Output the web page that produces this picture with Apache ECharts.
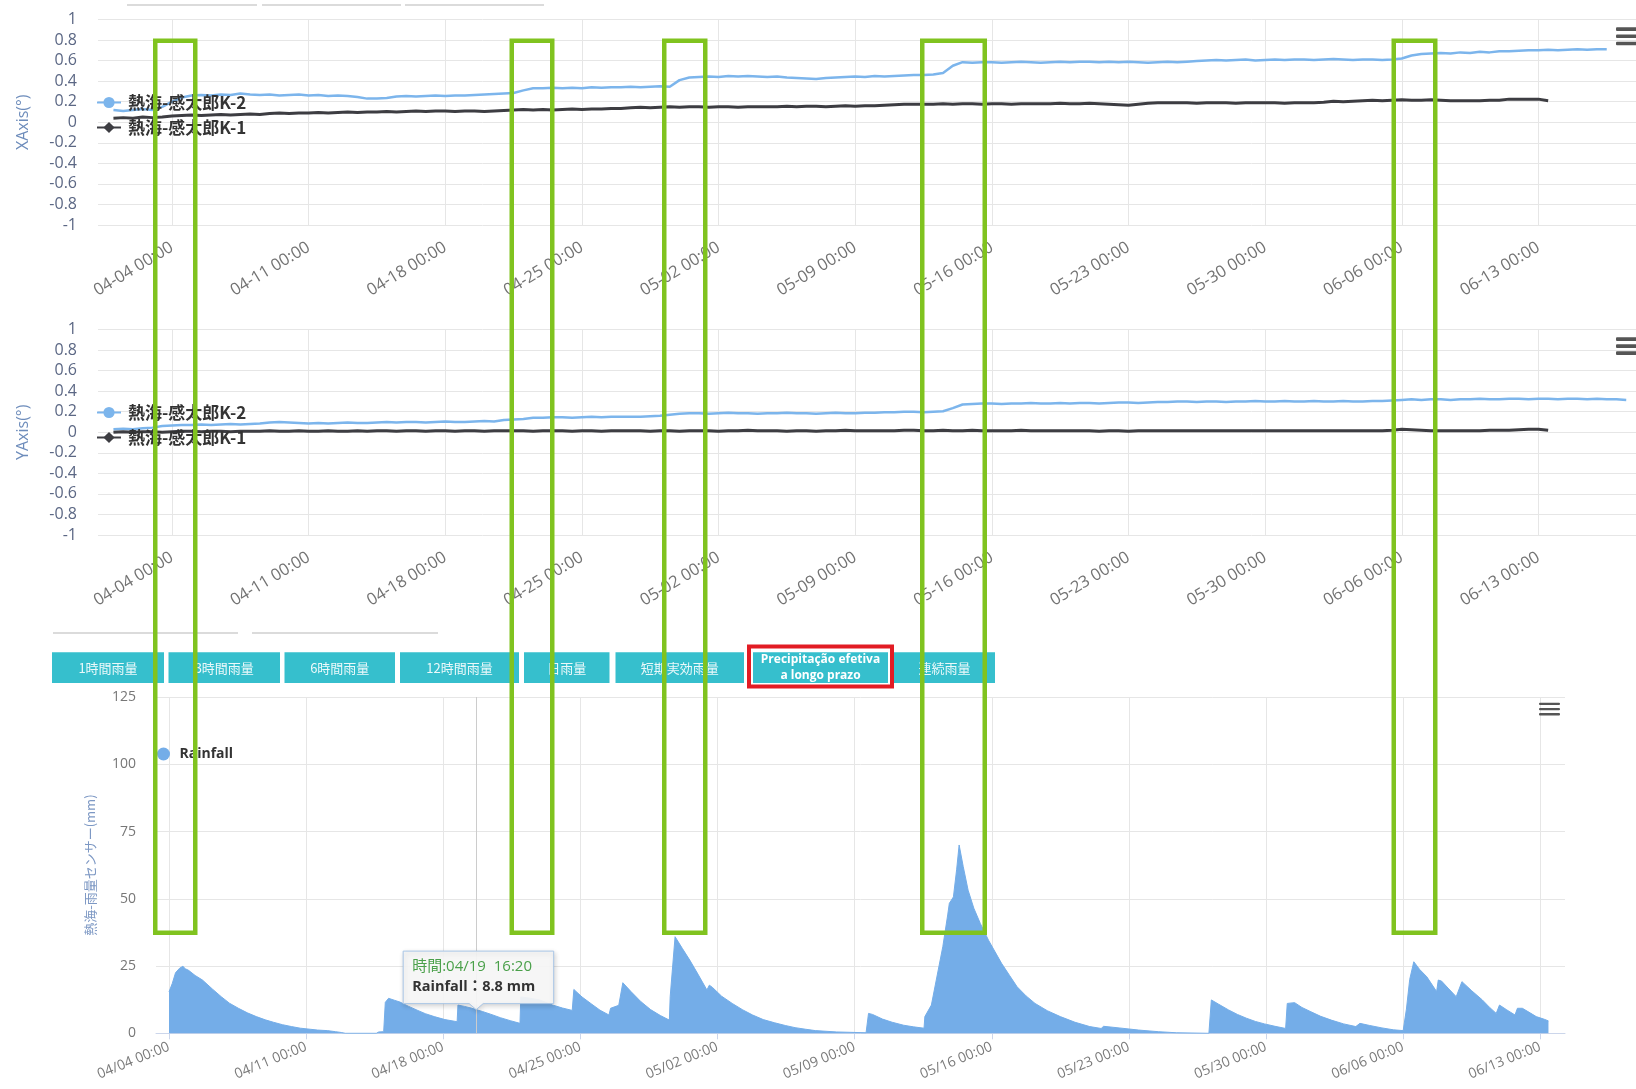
<!DOCTYPE html>
<html>
<head>
<meta charset="utf-8">
<script src="https://cdn.jsdelivr.net/npm/echarts@6/dist/echarts.min.js"></script>
<style>
  html, body { margin: 0; padding: 0; background: #ffffff; }
  #c { width: 1636px; height: 1089px; }
</style>
</head>
<body>
<div id="c"></div>
<script>
// ---------------- data ----------------
const YEAR = 2021;

// inclinometer readings, sampled every 12 hours from sensorStart
const sensorStart = '04/01 00:00';
const sensorStepHours = 12;

// X axis tilt, 熱海-感太郎K-2
const xK2 = [
  0.12,0.11, 0.12,0.13, 0.12,0.15, 0.20,0.24, 0.26,0.265, 0.26,0.27, 0.265,0.28,
  0.27,0.265, 0.27,0.26, 0.265,0.27, 0.26,0.265, 0.255,0.26, 0.255,0.245, 0.23,0.23,
  0.235,0.25, 0.255,0.25, 0.255,0.26, 0.255,0.26, 0.26,0.265, 0.27,0.275, 0.28,0.285,
  0.31,0.33, 0.33,0.335, 0.33,0.335, 0.33,0.34, 0.335,0.34, 0.34,0.345, 0.34,0.345,
  0.35,0.345, 0.41,0.435, 0.44,0.445, 0.44,0.45, 0.445,0.45, 0.445,0.44, 0.445,0.435,
  0.43,0.425, 0.42,0.43, 0.435,0.44, 0.445,0.44, 0.45,0.445, 0.45,0.455, 0.46,0.46,
  0.465,0.48, 0.55,0.585, 0.58,0.585, 0.585,0.58, 0.585,0.59, 0.585,0.58, 0.585,0.59,
  0.585,0.59, 0.59,0.585, 0.59,0.585, 0.59,0.585, 0.58,0.585, 0.59,0.585, 0.59,0.595,
  0.60,0.605, 0.60,0.605, 0.61,0.60, 0.605,0.61, 0.605,0.61, 0.61,0.605, 0.61,0.615,
  0.61,0.605, 0.61,0.61, 0.605,0.61, 0.62,0.65, 0.665,0.67, 0.675,0.67, 0.68,0.675,
  0.685,0.68, 0.69,0.69, 0.695,0.70, 0.70,0.705, 0.70,0.705, 0.71,0.705, 0.71,0.71
];
// X axis tilt, 熱海-感太郎K-1
const xK1 = [
  0.04,0.045, 0.04,0.05, 0.045,0.05, 0.06,0.065, 0.07,0.065, 0.07,0.075, 0.07,0.075,
  0.08,0.075, 0.085,0.09, 0.085,0.09, 0.09,0.095, 0.09,0.095, 0.10,0.095, 0.10,0.10,
  0.105,0.10, 0.105,0.11, 0.105,0.11, 0.11,0.105, 0.11,0.11, 0.105,0.11, 0.115,0.12,
  0.125,0.12, 0.125,0.12, 0.125,0.13, 0.125,0.13, 0.13,0.135, 0.135,0.14, 0.145,0.14,
  0.145,0.15, 0.145,0.15, 0.15,0.145, 0.15,0.15, 0.145,0.15, 0.15,0.15, 0.15,0.155,
  0.15,0.155, 0.155,0.15, 0.155,0.16, 0.155,0.16, 0.16,0.165, 0.17,0.175, 0.175,0.175,
  0.175,0.18, 0.175,0.18, 0.18,0.175, 0.18,0.18, 0.175,0.18, 0.18,0.18, 0.18,0.185,
  0.18,0.18, 0.185,0.18, 0.175,0.17, 0.165,0.175, 0.185,0.19, 0.19,0.19, 0.19,0.185,
  0.19,0.19, 0.19,0.185, 0.19,0.19, 0.19,0.19, 0.185,0.19, 0.19,0.19, 0.195,0.205,
  0.20,0.205, 0.21,0.215, 0.21,0.215, 0.22,0.215, 0.215,0.22, 0.215,0.21, 0.21,0.21,
  0.21,0.215, 0.215,0.225, 0.225,0.225, 0.225,0.21
];
// Y axis tilt, 熱海-感太郎K-2
const yK2 = [
  0.03,0.035, 0.03,0.04, 0.045,0.06, 0.065,0.07, 0.07,0.075, 0.07,0.075, 0.08,0.075,
  0.08,0.085, 0.095,0.10, 0.095,0.09, 0.085,0.09, 0.085,0.09, 0.095,0.09, 0.09,0.095,
  0.10,0.095, 0.10,0.10, 0.095,0.10, 0.105,0.10, 0.10,0.105, 0.11,0.105, 0.12,0.125,
  0.13,0.14, 0.14,0.145, 0.145,0.14, 0.145,0.15, 0.145,0.15, 0.15,0.15, 0.15,0.155,
  0.16,0.17, 0.18,0.185, 0.185,0.18, 0.185,0.19, 0.185,0.185, 0.18,0.185, 0.185,0.19,
  0.185,0.185, 0.18,0.185, 0.19,0.185, 0.185,0.19, 0.19,0.195, 0.195,0.20, 0.20,0.195,
  0.20,0.205, 0.235,0.27, 0.275,0.28, 0.28,0.275, 0.28,0.28, 0.285,0.28, 0.28,0.285,
  0.28,0.285, 0.285,0.28, 0.285,0.29, 0.29,0.285, 0.29,0.295, 0.295,0.30, 0.30,0.295,
  0.30,0.30, 0.295,0.30, 0.30,0.305, 0.30,0.30, 0.305,0.30, 0.30,0.305, 0.30,0.30,
  0.305,0.30, 0.30,0.305, 0.305,0.31, 0.315,0.32, 0.315,0.32, 0.32,0.315, 0.32,0.32,
  0.325,0.32, 0.32,0.325, 0.325,0.32, 0.325,0.325, 0.32,0.325, 0.325,0.32, 0.325,0.32,
  0.32,0.315
];
// Y axis tilt, 熱海-感太郎K-1
const yK1 = [
  0.0,0.005, 0.0,0.005, 0.005,0.0, 0.005,0.01, 0.01,0.005, 0.01,0.01, 0.005,0.01,
  0.01,0.01, 0.015,0.01, 0.01,0.015, 0.01,0.01, 0.015,0.01, 0.01,0.015, 0.01,0.015,
  0.015,0.01, 0.015,0.015, 0.01,0.015, 0.015,0.01, 0.015,0.015, 0.01,0.015, 0.015,0.015,
  0.015,0.01, 0.015,0.015, 0.015,0.01, 0.015,0.015, 0.01,0.015, 0.015,0.015, 0.015,0.01,
  0.015,0.015, 0.01,0.015, 0.015,0.015, 0.01,0.015, 0.015,0.02, 0.015,0.015, 0.015,0.01,
  0.015,0.015, 0.01,0.015, 0.015,0.02, 0.015,0.015, 0.015,0.015, 0.015,0.02, 0.02,0.015,
  0.015,0.02, 0.015,0.015, 0.02,0.015, 0.015,0.015, 0.015,0.02, 0.015,0.015, 0.015,0.015,
  0.015,0.015, 0.015,0.01, 0.015,0.015, 0.01,0.015, 0.015,0.015, 0.015,0.015, 0.015,0.015,
  0.015,0.015, 0.015,0.015, 0.015,0.015, 0.015,0.015, 0.015,0.015, 0.015,0.015, 0.015,0.015,
  0.015,0.015, 0.015,0.015, 0.015,0.02, 0.03,0.025, 0.02,0.015, 0.015,0.015, 0.015,0.015,
  0.015,0.02, 0.02,0.02, 0.025,0.03, 0.03,0.02
];

// long-term effective rainfall (mm)
const rainTimes = [
  '04/04 00:00','04/04 04:00','04/04 08:00','04/04 13:00','04/04 17:00','04/04 20:00','04/05 00:00','04/05 08:00','04/05 17:00',
  '04/06 05:00','04/06 16:00','04/07 02:00','04/07 13:00','04/08 00:00','04/08 11:00','04/08 22:00','04/09 08:00','04/09 19:00',
  '04/10 06:00','04/10 17:00','04/11 05:00','04/11 14:00','04/12 02:00','04/12 12:00','04/12 19:00','04/13 00:00','04/14 14:00',
  '04/14 17:00','04/14 23:00','04/15 01:00','04/15 05:00','04/15 12:00','04/15 19:00','04/16 05:00','04/16 16:00','04/17 02:00',
  '04/17 13:00','04/18 02:00','04/18 17:00','04/18 18:00','04/19 02:00','04/19 10:00','04/19 16:20','04/20 00:00','04/20 10:00',
  '04/20 22:00','04/21 10:00','04/21 22:00','04/21 23:00','04/22 07:00','04/22 22:00','04/23 14:00','04/24 02:00','04/24 14:00',
  '04/24 16:00','04/25 02:00','04/25 14:00','04/26 00:00','04/26 11:00','04/26 13:00','04/26 23:00','04/27 04:00','04/27 14:00',
  '04/28 02:00','04/28 14:00','04/29 02:00','04/29 13:00','04/29 14:00','04/29 20:00','04/30 05:00','04/30 14:00','05/01 00:00',
  '05/01 11:00','05/01 14:00','05/01 18:00','05/02 05:00','05/02 18:00','05/03 07:00','05/03 19:00','05/04 08:00','05/04 22:00',
  '05/05 11:00','05/05 23:00','05/06 12:00','05/07 00:00','05/08 02:00','05/09 14:00','05/09 17:00','05/09 22:00','05/10 10:00',
  '05/10 22:00','05/11 12:00','05/12 00:00','05/12 13:00','05/12 14:00','05/12 22:00','05/13 04:00','05/13 12:00','05/13 18:00',
  '05/13 20:00','05/14 01:00','05/14 05:00','05/14 08:00','05/14 13:00','05/14 19:00','05/15 02:00','05/15 10:00','05/15 20:00',
  '05/16 12:00','05/16 22:00','05/17 07:00','05/17 18:00','05/18 05:00','05/18 20:00','05/19 12:00','05/20 06:00','05/21 00:00',
  '05/21 14:00','05/21 17:00','05/22 12:00','05/23 12:00','05/24 12:00','05/25 10:00','05/25 12:00','05/27 02:00','05/27 05:00',
  '05/27 14:00','05/28 02:00','05/28 13:00','05/29 00:00','05/29 11:00','05/29 22:00','05/30 11:00','05/31 00:00','05/31 02:00',
  '05/31 11:00','05/31 20:00','06/01 07:00','06/01 19:00','06/02 08:00','06/02 23:00','06/03 14:00','06/03 19:00','06/04 07:00',
  '06/04 22:00','06/05 12:00','06/06 00:00','06/06 04:00','06/06 08:00','06/06 13:00','06/06 20:00','06/07 05:00','06/07 17:00',
  '06/07 19:00','06/07 23:00','06/08 07:00','06/08 17:00','06/09 00:00','06/09 12:00','06/10 01:00','06/10 10:00','06/10 18:00',
  '06/10 22:00','06/11 07:00','06/11 17:00','06/11 20:00','06/12 02:00','06/12 12:00','06/12 19:00','06/13 05:00','06/13 10:00'
];
const rainValues = [
  15.4,18.5,22.5,24.2,24.9,24.0,23.4,21.5,19.8,
  16.5,13.6,11.2,9.3,7.6,6.2,5.0,4.1,3.2,
  2.5,1.9,1.5,1.2,1.0,0.6,0.3,0,0,
  0.5,0.6,11.5,13.0,12.3,11.6,10.1,8.6,7.3,
  6.2,5.1,4.3,10.5,10.0,9.4,8.8,8.1,7.1,
  5.8,4.7,3.7,13.5,13.2,12.4,10.5,9.4,8.5,
  16.3,13.5,10.8,8.6,6.8,9.3,10.4,18.8,15.5,
  11.8,8.8,6.6,4.9,13.6,35.9,31.5,27.2,22.0,
  16.1,17.9,17.0,13.8,11.1,8.7,6.8,5.1,3.9,
  2.9,2.1,1.5,1.0,0.5,0.2,7.4,7.0,5.3,
  4.1,3.0,2.4,1.9,6.2,10.5,19.8,32.2,44.0,
  48.3,50.7,61.0,70.0,62.0,53.2,46.5,40.8,34.6,
  26.0,21.4,17.3,13.9,11.1,8.4,6.2,4.1,2.5,
  1.8,2.6,2.0,1.2,0.6,0.2,0,0,12.4,
  10.8,8.7,7.0,5.6,4.4,3.5,2.6,1.8,11.1,
  11.4,9.6,8.0,6.3,4.9,3.5,2.5,3.7,2.9,
  2.0,1.3,1.0,9.0,20.0,26.6,23.8,21.0,15.5,
  19.8,19.4,16.8,13.6,19.2,15.8,12.4,9.6,7.4,
  10.5,8.7,6.8,9.3,9.3,7.5,6.2,5.2,4.6
];

// hovered sample shown in the tooltip
const tipTime = '04/19 16:20';

// weekly axis ticks
const weekTicks = ['04/04 00:00','04/11 00:00','04/18 00:00','04/25 00:00','05/02 00:00','05/09 00:00',
                   '05/16 00:00','05/23 00:00','05/30 00:00','06/06 00:00','06/13 00:00'];

const seriesNames = ['熱海-感太郎K-2', '熱海-感太郎K-1'];
const rainName = 'Rainfall';
const buttonLabels = ['1時間雨量','3時間雨量','6時間雨量','12時間雨量','日雨量','短期実効雨量',
                      'Precipitação efetiva\na longo prazo','連続雨量'];
const activeButton = 6;

// ---------------- helpers ----------------
const DAY = 86400000;
function ts(s) {
  const [d, t] = s.split(' ');
  const [mo, da] = d.split('/').map(Number);
  const [h, mi] = t.split(':').map(Number);
  return Date.UTC(YEAR, mo - 1, da, h, mi);
}
function fmt(v, sep) {
  const d = new Date(v);
  const p = n => String(n).padStart(2, '0');
  return p(d.getUTCMonth() + 1) + sep + p(d.getUTCDate()) + ' ' + p(d.getUTCHours()) + ':' + p(d.getUTCMinutes());
}
const t0 = ts(sensorStart);
function sensorPairs(vals) {
  return vals.map((v, i) => [t0 + i * sensorStepHours * 3600000, v]);
}
const rainData = rainTimes.map((s, i) => [ts(s), rainValues[i]]);
const tickVals = weekTicks.map(ts);

// ---------------- layout & style ----------------
const FONT = '"Open Sans", "Noto Sans CJK JP", sans-serif';
const CJK = '"Noto Sans CJK JP", "Open Sans", sans-serif';
const BLUE = '#7cb5ec';
const DARK = '#3d3d42';
const GRIDC = '#e6e6e6';
const AREA = '#74ade8';

const firstTick = ts('04/04 00:00');
// upper panels: 19.52 px per day, first tick 74 px right of plot edge
const upMin = firstTick - (74 / 19.52) * DAY;
const upMax = upMin + (1538 / 19.52) * DAY;
// rainfall panel: 19.59 px per day, first tick 13 px right of plot edge
const lowMin = firstTick - (13 / 19.59) * DAY;
const lowMax = lowMin + (1409 / 19.59) * DAY;

const panelTops = [19.5, 329.5];

function upperX(gi) {
  return {
    type: 'value', gridIndex: gi, min: upMin, max: upMax,
    axisLine: { show: false },
    axisTick: { show: true, customValues: tickVals, length: 13, lineStyle: { color: GRIDC } },
    splitLine: { show: true, lineStyle: { color: GRIDC, width: 1 } },
    axisLabel: { customValues: tickVals, formatter: v => fmt(v, '-'), rotate: 31, margin: 21,
                 fontSize: 16.5, color: '#737373', fontFamily: FONT }
  };
}
function upperY(gi, name) {
  return {
    type: 'value', gridIndex: gi, min: -1, max: 1, interval: 0.2,
    name: name, nameLocation: 'middle', nameRotate: 90, nameGap: 67,
    nameTextStyle: { color: '#6d8cbb', fontSize: 16, fontFamily: FONT },
    axisLine: { show: false }, axisTick: { show: false },
    splitLine: { lineStyle: { color: GRIDC } },
    axisLabel: { margin: 21, fontSize: 16, color: '#5b6784', fontFamily: FONT }
  };
}
function sensorSeries(name, gi, vals, color, symbol, width) {
  return {
    name: name, type: 'line', xAxisIndex: gi, yAxisIndex: gi,
    data: sensorPairs(vals), showSymbol: false, symbol: symbol, symbolSize: 10,
    lineStyle: { color: color, width: width }, itemStyle: { color: color },
    emphasis: { disabled: true }, silent: true, z: 3
  };
}
function legendFor(top) {
  return {
    data: seriesNames, orient: 'vertical', left: 96, top: top, padding: 0,
    itemWidth: 24, itemHeight: 14, itemGap: 8, selectedMode: false,
    textStyle: { fontSize: 17, fontWeight: 'bold', color: '#333', fontFamily: CJK, padding: [0, 0, 0, 2] }
  };
}

const option = {
  animation: false,
  backgroundColor: '#ffffff',
  grid: [
    { left: 98, right: 0, top: panelTops[0], height: 205.5, containLabel: false, outerBoundsMode: 'none' },
    { left: 98, right: 0, top: panelTops[1], height: 205.5, containLabel: false, outerBoundsMode: 'none' },
    { left: 156, width: 1409, top: 697, height: 336.3, containLabel: false, outerBoundsMode: 'none' }
  ],
  xAxis: [
    upperX(0), upperX(1),
    {
      type: 'value', gridIndex: 2, min: lowMin, max: lowMax,
      axisLine: { show: true, lineStyle: { color: '#ccd6eb' } },
      axisTick: { show: true, customValues: tickVals, length: 6, lineStyle: { color: '#ccd6eb' } },
      splitLine: { show: true, lineStyle: { color: GRIDC } },
      axisLabel: { customValues: tickVals, formatter: v => fmt(v, '/'), rotate: 22, margin: 13,
                   fontSize: 14, color: '#7a7a7a', fontFamily: FONT }
    }
  ],
  yAxis: [
    upperY(0, 'XAxis(°)'), upperY(1, 'YAxis(°)'),
    {
      type: 'value', gridIndex: 2, min: 0, max: 125, interval: 25,
      name: '熱海-雨量センサー(mm)', nameLocation: 'middle', nameRotate: 90, nameGap: 59,
      nameTextStyle: { color: '#7d98c4', fontSize: 13, fontFamily: CJK },
      axisLine: { show: false }, axisTick: { show: false },
      splitLine: { lineStyle: { color: GRIDC } },
      axisLabel: { margin: 20, fontSize: 14, color: '#777', fontFamily: FONT }
    }
  ],
  legend: [
    legendFor(94),
    legendFor(404),
    {
      data: [rainName], left: 157, top: 747, padding: 0, icon: 'circle',
      itemWidth: 14, itemHeight: 13, selectedMode: false,
      textStyle: { fontSize: 14, fontWeight: 'bold', color: '#333', fontFamily: FONT, padding: [0, 0, 0, 4] }
    }
  ],
  series: [
    sensorSeries(seriesNames[0], 0, xK2, BLUE, 'circle', 2.5),
    sensorSeries(seriesNames[1], 0, xK1, DARK, 'diamond', 3),
    sensorSeries(seriesNames[0], 1, yK2, BLUE, 'circle', 2.5),
    sensorSeries(seriesNames[1], 1, yK1, DARK, 'diamond', 3),
    {
      name: rainName, type: 'line', xAxisIndex: 2, yAxisIndex: 2,
      data: rainData, showSymbol: false, symbol: 'circle',
      lineStyle: { color: AREA, width: 1 }, itemStyle: { color: AREA },
      areaStyle: { color: AREA, opacity: 1 }, silent: true,
      markLine: {
        silent: true, symbol: ['none', 'none'], label: { show: false },
        lineStyle: { color: '#cccccc', width: 1, type: 'solid' },
        data: [{ xAxis: ts(tipTime) }]
      }
    }
  ]
};

// ---------------- page furniture ----------------
const OVER = 100;
const graphics = [];

// faint tab rules
const tabRules = [[127, 257, 5], [262, 401, 5], [405, 544, 5], [53, 238, 633], [252, 438, 633]];
tabRules.forEach(([a, b, y]) => graphics.push({
  type: 'line', shape: { x1: a, y1: y, x2: b, y2: y }, style: { stroke: '#cfcfcf', lineWidth: 1.5 }
}));

// context-menu glyphs
const menus = [[1616, 27.3, 22, 3.6, 7.2], [1616, 337.3, 22, 3.6, 7], [1539, 702.7, 21, 2.4, 5.2]];
menus.forEach(([x, y, w, h, step]) => {
  for (let k = 0; k < 3; k++) {
    graphics.push({ type: 'rect', z: OVER, shape: { x: x, y: y + k * step, width: w, height: h, r: 1 },
                    style: { fill: '#555555' } });
  }
});

// rainfall selector buttons
const buttonSpans = [[52, 164], [168.5, 280], [284.5, 395], [400, 519], [524, 609.5], [615.5, 744], [753, 888], [894, 995]];
buttonLabels.forEach((lab, i) => {
  const [a, b] = buttonSpans[i];
  graphics.push({ type: 'rect', shape: { x: a, y: 652.3, width: b - a, height: 30.6 },
                  style: { fill: '#36bfcd' } });
  const active = i === activeButton;
  graphics.push({ type: 'text', x: (a + b) / 2, y: 667.6,
    style: { text: lab, fill: '#ffffff', align: 'center', verticalAlign: 'middle',
             font: (active ? 'bold 12px ' : '13px ') + (active ? FONT : CJK),
             lineHeight: 16, opacity: active ? 1 : 0.9 } });
});

// highlight frames
const greenFrames = [[153, 197.5], [509.5, 554.5], [662, 707.5], [920, 987], [1391.5, 1437.5]];
const frameTop = 38.5, frameBottom = 935, gw = 4.5;
greenFrames.forEach(([a, b]) => graphics.push({
  type: 'rect', z: OVER,
  shape: { x: a + gw / 2, y: frameTop + gw / 2, width: b - a - gw, height: frameBottom - frameTop - gw },
  style: { fill: null, stroke: '#80c31f', lineWidth: gw }
}));
const redFrame = [747, 644.5, 894, 688.5], rw = 4;
graphics.push({
  type: 'rect', z: OVER,
  shape: { x: redFrame[0] + rw / 2, y: redFrame[1] + rw / 2, width: redFrame[2] - redFrame[0] - rw, height: redFrame[3] - redFrame[1] - rw },
  style: { fill: null, stroke: '#e21c24', lineWidth: rw }
});

option.graphic = { elements: graphics };

const chart = echarts.init(document.getElementById('c'), null, { renderer: 'canvas', width: 1636, height: 1089 });
chart.setOption(option);

// ---------------- hover tooltip for the selected sample ----------------
const tipIdx = rainTimes.indexOf(tipTime);
const tipVal = rainValues[tipIdx];
const [px, py] = chart.convertToPixel({ gridIndex: 2 }, [ts(tipTime), tipVal]);
const L = px - 73, R = px + 77.5, B = py - 6, T = B - 52.5;
const tipEls = [
  { type: 'polygon', z: OVER - 1,
    shape: { points: [[L, T], [R, T], [R, B], [px + 7, B], [px, B + 6], [px - 7, B], [L, B]] },
    style: { fill: 'rgba(249,249,249,0.92)', stroke: '#a9c6e6', lineWidth: 1,
             shadowBlur: 5, shadowColor: 'rgba(0,0,0,0.18)', shadowOffsetX: 1, shadowOffsetY: 2 } },
  { type: 'text', z: OVER - 1, x: L + 9, y: T + 16,
    style: { text: '時間:' + tipTime.replace(' ', '  '), fill: '#4aa04a', font: '15px ' + FONT, verticalAlign: 'middle' } },
  { type: 'text', z: OVER - 1, x: L + 9, y: T + 36,
    style: { text: rainName + '：' + tipVal + ' mm', fill: '#333333', font: 'bold 14.5px ' + FONT, verticalAlign: 'middle' } }
];
chart.setOption({ graphic: { elements: graphics.concat(tipEls) } });
</script>
</body>
</html>
